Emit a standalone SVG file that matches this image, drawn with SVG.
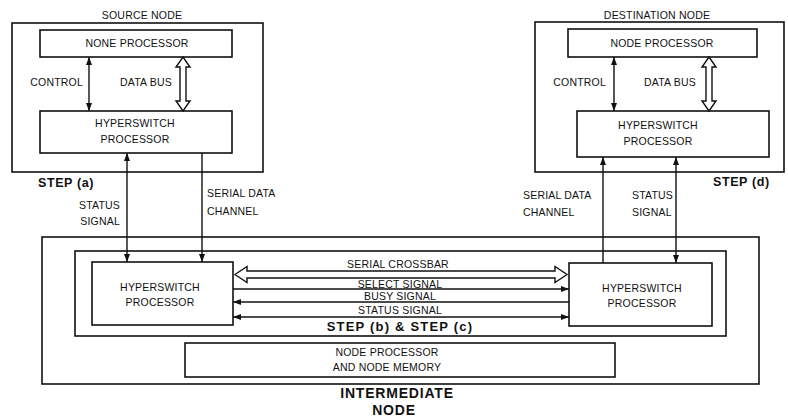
<svg xmlns="http://www.w3.org/2000/svg" width="788" height="419" viewBox="0 0 788 419">
<defs>
<style>
.box{fill:none;stroke:#111;stroke-width:1.6}
.wbox{fill:#fff;stroke:#111;stroke-width:1.6}
.ln{fill:none;stroke:#111;stroke-width:1.4}
.hol{fill:#fff;stroke:#111;stroke-width:1.4;stroke-linejoin:miter}
text{font-family:"Liberation Sans",Arial,sans-serif;font-size:10.5px;fill:#111;letter-spacing:0.2px}
.b{font-weight:bold;font-size:12.5px;letter-spacing:0.6px}
.m{text-anchor:middle}
.e{text-anchor:end}
</style>
<marker id="ah" markerUnits="userSpaceOnUse" markerWidth="9" markerHeight="7" refX="8" refY="3" orient="auto-start-reverse">
<path d="M0,0 L8,3 L0,6 z" fill="#111"/>
</marker>
</defs>
<rect width="788" height="419" fill="#fff"/>

<g id="source-node">
<rect class="box" x="12" y="23" width="251" height="149"/>
<text class="m" x="142" y="19">SOURCE NODE</text>
<text class="b" x="38" y="187">STEP (a)</text>
</g>
<g id="source-node-processor">
<rect class="wbox" x="40" y="30" width="192" height="27"/>
<text class="m" x="137" y="47">NONE PROCESSOR</text>
</g>
<g id="source-hyperswitch">
<rect class="wbox" x="40" y="111" width="192" height="42"/>
<text class="m" x="135" y="127">HYPERSWITCH</text>
<text class="m" x="135" y="143">PROCESSOR</text>
</g>

<g id="destination-node">
<rect class="box" x="535" y="22" width="249" height="150"/>
<text class="m" x="657" y="19">DESTINATION NODE</text>
<text class="b" x="713" y="186">STEP (d)</text>
</g>
<g id="destination-node-processor">
<rect class="wbox" x="568" y="29" width="189" height="28"/>
<text class="m" x="662" y="47">NODE PROCESSOR</text>
</g>
<g id="destination-hyperswitch">
<rect class="wbox" x="577" y="111" width="192" height="46"/>
<text class="m" x="658" y="129">HYPERSWITCH</text>
<text class="m" x="658" y="145">PROCESSOR</text>
</g>

<g id="intermediate-node">
<rect class="box" x="42" y="237" width="717" height="147"/>
<rect class="box" x="75" y="251" width="651" height="85"/>
<text class="b m" x="397" y="398" style="font-size:14px;letter-spacing:0.8px">INTERMEDIATE</text>
<text class="b m" x="394" y="415" style="font-size:14px;letter-spacing:0.8px">NODE</text>
<text class="b m" x="400" y="331" style="font-size:13px;letter-spacing:1.2px">STEP (b) &amp; STEP (c)</text>
</g>
<g id="intermediate-hyperswitch-left">
<rect class="wbox" x="92" y="262" width="141" height="63"/>
<text class="m" x="160" y="291">HYPERSWITCH</text>
<text class="m" x="160" y="306">PROCESSOR</text>
</g>
<g id="intermediate-hyperswitch-right">
<rect class="wbox" x="569" y="263" width="143" height="63"/>
<text class="m" x="642" y="292">HYPERSWITCH</text>
<text class="m" x="642" y="307">PROCESSOR</text>
</g>
<g id="intermediate-node-processor">
<rect class="wbox" x="185" y="343" width="430" height="34"/>
<text class="m" x="387" y="356">NODE PROCESSOR</text>
<text class="m" x="387" y="371">AND NODE MEMORY</text>
</g>

<g id="connectors">
<line class="ln" x1="89" y1="57" x2="89" y2="111" marker-start="url(#ah)" marker-end="url(#ah)"/>
<path class="hol" d="M183,57 L190,67 L186,67 L186,101 L190,101 L183,111 L176,101 L180,101 L180,67 L176,67 Z"/>
<line class="ln" x1="614" y1="57" x2="614" y2="111" marker-start="url(#ah)" marker-end="url(#ah)"/>
<path class="hol" d="M709,57 L716,67 L712,67 L712,101 L716,101 L709,111 L702,101 L706,101 L706,67 L702,67 Z"/>
<line class="ln" x1="127" y1="153" x2="127" y2="262" marker-start="url(#ah)" marker-end="url(#ah)"/>
<line class="ln" x1="202" y1="153" x2="202" y2="262" marker-end="url(#ah)"/>
<line class="ln" x1="603" y1="263" x2="603" y2="157" marker-end="url(#ah)"/>
<line class="ln" x1="676" y1="157" x2="676" y2="263" marker-start="url(#ah)" marker-end="url(#ah)"/>
<path class="hol" d="M235,274.5 L247,266.5 L247,271 L555,271 L555,266.5 L567,274.5 L555,282.5 L555,278 L247,278 L247,282.5 Z"/>
<line class="ln" x1="233" y1="289" x2="569" y2="289" marker-end="url(#ah)"/>
<line class="ln" x1="233" y1="302" x2="569" y2="302" marker-start="url(#ah)"/>
<line class="ln" x1="233" y1="317" x2="569" y2="317" marker-start="url(#ah)" marker-end="url(#ah)"/>
<text class="e" x="83" y="86">CONTROL</text>
<text x="120" y="86">DATA BUS</text>
<text class="e" x="606" y="86">CONTROL</text>
<text x="644" y="86">DATA BUS</text>
<text class="e" x="120" y="209">STATUS</text>
<text class="e" x="120" y="225">SIGNAL</text>
<text x="207" y="197">SERIAL DATA</text>
<text x="207" y="215">CHANNEL</text>
<text x="523" y="199">SERIAL DATA</text>
<text x="523" y="216">CHANNEL</text>
<text x="632" y="199">STATUS</text>
<text x="632" y="216">SIGNAL</text>
<text class="m" x="398" y="268">SERIAL CROSSBAR</text>
<text class="m" x="400" y="288">SELECT SIGNAL</text>
<text class="m" x="400" y="300">BUSY SIGNAL</text>
<text class="m" x="400" y="314">STATUS SIGNAL</text>
</g>
</svg>
